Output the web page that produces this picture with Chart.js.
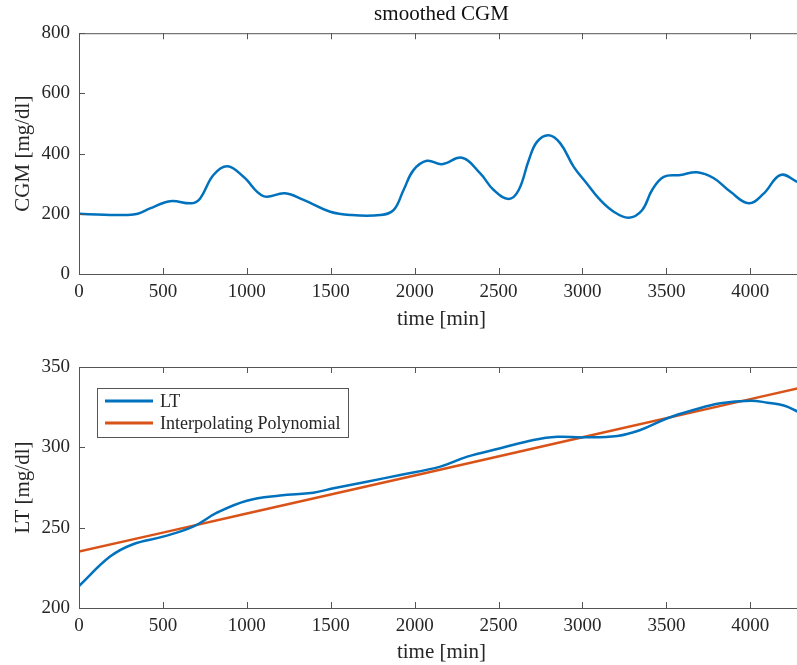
<!DOCTYPE html>
<html>
<head>
<meta charset="utf-8">
<script src="https://cdn.jsdelivr.net/npm/chart.js@4.4.0/dist/chart.umd.min.js"></script>
<style>
  html, body { margin: 0; padding: 0; background: #fff; overflow: hidden; }
  #wrap { width: 804px; }
  canvas { display: block; }
</style>
</head>
<body>
<div id="wrap">
  <canvas id="cgmChart" width="804" height="332"></canvas>
  <canvas id="ltChart" width="804" height="333"></canvas>
</div>
<script>
// smoothed CGM
const cgm_time = [0, 150, 280, 350, 423, 543, 672, 722, 801, 885, 980, 1099, 1228, 1338, 1497, 1616, 1795, 1874, 1934, 1993, 2073, 2163, 2282, 2391, 2471, 2560, 2620, 2680, 2729, 2799, 2868, 2948, 3027, 3097, 3186, 3276, 3355, 3415, 3484, 3584, 3683, 3783, 3882, 3991, 4081, 4180, 4280, 4320];
const cgm_value = [200, 197, 196, 200, 218, 242, 235, 251, 329, 358, 323, 259, 268, 246, 207, 196, 196, 212, 279, 345, 376, 365, 386, 334, 279, 249, 279, 378, 439, 461, 434, 356, 300, 251, 207, 187, 212, 279, 323, 329, 338, 318, 273, 235, 268, 329, 306, 292];

// LT and its interpolating polynomial
const lt_time = [0, 185, 322, 500, 680, 822, 1000, 1198, 1396, 1517, 1715, 1914, 2153, 2314, 2511, 2708, 2850, 3005, 3208, 3345, 3506, 3661, 3822, 4001, 4102, 4200, 4282, 4320];
const lt_value = [213.7, 232, 239.7, 244.4, 250.6, 259.3, 266.8, 270, 271.8, 274.5, 278.6, 282.8, 288, 294.2, 299.4, 304.6, 306.6, 306.2, 307.1, 310.8, 318.1, 323.2, 327.4, 329, 327.8, 326, 322.2, 320];
const poly_time = [0, 500, 1000, 2000, 3000, 4000, 4320];
const poly_value = [235.1, 246.9, 258.8, 282.5, 306.3, 330, 337.6];

const x_ticks = [0, 500, 1000, 1500, 2000, 2500, 3000, 3500, 4000];
const cgm_ticks = [0, 200, 400, 600, 800];
const lt_ticks = [200, 250, 300, 350];

const BLUE = "#0072BD";
const ORANGE = "#D95319";
const AXIS = "#555555";
const TEXT = "#262626";

Chart.defaults.font.family = "'Liberation Serif', 'Times New Roman', serif";
Chart.defaults.color = TEXT;

function toPoints(xs, ys) {
  return xs.map(function (x, i) { return { x: x, y: ys[i] }; });
}

// axes box with inward tick marks, like the original figure
const boxPlugin = {
  id: "box",
  afterDatasetsDraw(chart) {
    const ctx = chart.ctx;
    const a = chart.chartArea;
    const xs = chart.scales.x;
    const ys = chart.scales.y;
    ctx.save();
    ctx.strokeStyle = AXIS;
    ctx.lineWidth = 1;
    ctx.strokeRect(a.left + 0.5, a.top + 0.5, a.right - a.left, a.bottom - a.top);
    ctx.beginPath();
    xs.ticks.forEach(function (t) {
      const px = Math.round(xs.getPixelForValue(t.value)) + 0.5;
      ctx.moveTo(px, a.bottom); ctx.lineTo(px, a.bottom - 6);
      ctx.moveTo(px, a.top); ctx.lineTo(px, a.top + 6);
    });
    ys.ticks.forEach(function (t) {
      const py = Math.round(ys.getPixelForValue(t.value)) + 0.5;
      ctx.moveTo(a.left, py); ctx.lineTo(a.left + 6, py);
    });
    ctx.stroke();
    ctx.restore();
  }
};

// legend box in the upper left of the plot area
const insideLegend = {
  id: "insideLegend",
  afterDraw(chart) {
    const ctx = chart.ctx;
    const a = chart.chartArea;
    const left = a.left + 18, top = a.top + 21, w = 251, h = 49;
    ctx.save();
    ctx.fillStyle = "#fff";
    ctx.fillRect(left, top, w, h);
    ctx.strokeStyle = AXIS;
    ctx.lineWidth = 1;
    ctx.strokeRect(left + 0.5, top + 0.5, w, h);
    ctx.font = "18px 'Liberation Serif', serif";
    ctx.textBaseline = "middle";
    chart.data.datasets.forEach(function (ds, i) {
      const y = top + 13 + i * 22;
      ctx.strokeStyle = ds.borderColor;
      ctx.lineWidth = 3;
      ctx.beginPath();
      ctx.moveTo(left + 8, y);
      ctx.lineTo(left + 56, y);
      ctx.stroke();
      ctx.fillStyle = TEXT;
      ctx.fillText(ds.label, left + 63, y + 1);
    });
    ctx.restore();
  }
};

function plainNumber(value) {
  return String(value);
}

function xAxis(plotBottom) {
  return {
    type: "linear",
    min: 0,
    max: 4320,
    afterBuildTicks: function (scale) {
      scale.ticks = x_ticks.map(function (v) { return { value: v }; });
    },
    afterFit: function (scale) { scale.height = scale.chart.height - plotBottom; },
    grid: { display: false, drawTicks: false },
    border: { display: false },
    ticks: { padding: 7, font: { size: 19 }, color: TEXT, maxRotation: 0, callback: plainNumber },
    title: { display: true, text: "time [min]", font: { size: 21 }, color: TEXT, padding: { top: 2, bottom: 0 } }
  };
}

function yAxis(min, max, ticks, label) {
  return {
    type: "linear",
    min: min,
    max: max,
    afterBuildTicks: function (scale) {
      scale.ticks = ticks.map(function (v) { return { value: v }; });
    },
    afterFit: function (scale) { scale.width = 79; },
    grid: { display: false, drawTicks: false },
    border: { display: false },
    ticks: { padding: 9, font: { size: 19 }, color: TEXT, callback: plainNumber },
    title: { display: true, text: label, font: { size: 21 }, color: TEXT, padding: { top: 11, bottom: 0 } }
  };
}

const cgm_chart = new Chart("cgmChart", {
  type: "line",
  data: {
    datasets: [
      {
        label: "CGM",
        data: toPoints(cgm_time, cgm_value),
        borderColor: BLUE,
        borderWidth: 2.5,
        pointRadius: 0,
        tension: 0.4,
        fill: false
      }
    ]
  },
  options: {
    responsive: false,
    animation: false,
    layout: { padding: { left: 0, right: 0, top: 0, bottom: 0 } },
    plugins: {
      legend: { display: false },
      tooltip: { enabled: false },
      title: {
        display: true,
        text: "smoothed CGM",
        fullSize: false,
        font: { size: 21, weight: "normal" },
        color: "#111",
        padding: { top: 2, bottom: 6 }
      }
    },
    scales: {
      x: xAxis(274),
      y: yAxis(0, 800, cgm_ticks, "CGM [mg/dl]")
    }
  },
  plugins: [boxPlugin]
});

const lt_chart = new Chart("ltChart", {
  type: "line",
  data: {
    datasets: [
      {
        label: "LT",
        data: toPoints(lt_time, lt_value),
        borderColor: BLUE,
        borderWidth: 2.5,
        pointRadius: 0,
        tension: 0.4,
        fill: false
      },
      {
        label: "Interpolating Polynomial",
        data: toPoints(poly_time, poly_value),
        borderColor: ORANGE,
        borderWidth: 2.5,
        pointRadius: 0,
        tension: 0,
        fill: false
      }
    ]
  },
  options: {
    responsive: false,
    animation: false,
    layout: { padding: { left: 0, right: 0, top: 35, bottom: 0 } },
    plugins: {
      legend: { display: false },
      tooltip: { enabled: false }
    },
    scales: {
      x: xAxis(276),
      y: yAxis(200, 350, lt_ticks, "LT [mg/dl]")
    }
  },
  plugins: [boxPlugin, insideLegend]
});
</script>
</body>
</html>
